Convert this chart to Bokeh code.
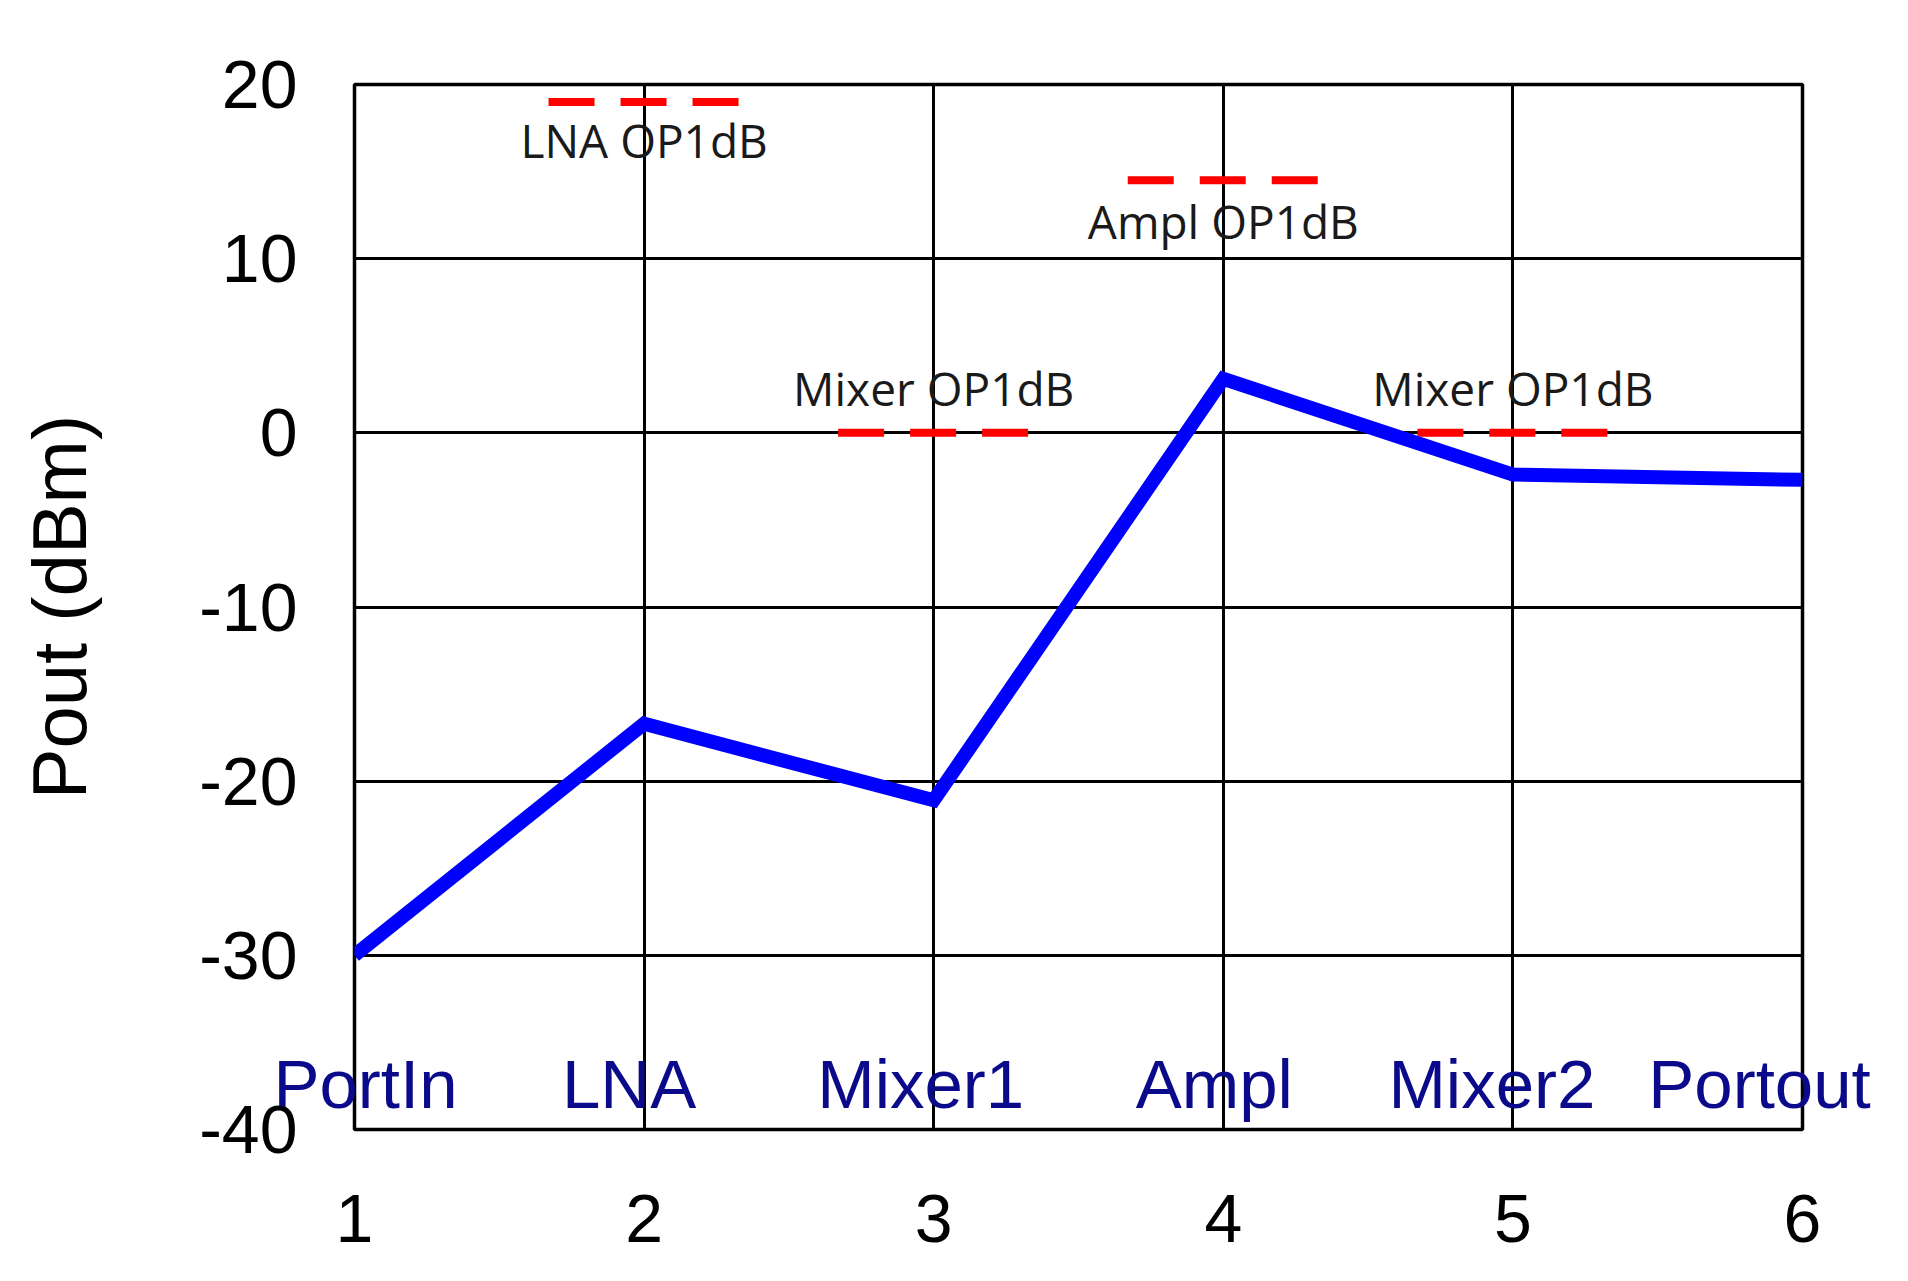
from bokeh.plotting import figure
from bokeh.models import (Range1d, FixedTicker, Label, PrintfTickFormatter, LinearAxis,
                          CustomJSTickFormatter)
from bokeh.embed import file_html
from bokeh.resources import INLINE

# ---- data ----
stage_index = [1, 2, 3, 4, 5, 6]
stage_names = ["PortIn", "LNA", "Mixer1", "Ampl", "Mixer2", "Portout"]
pout_dbm = [-30.0, -16.7, -21.1, 3.1, -2.4, -2.7]

op1db_labels = ["LNA OP1dB", "Mixer OP1dB", "Ampl OP1dB", "Mixer OP1dB"]
op1db_stage = [2, 3, 4, 5]
op1db_start = [1.67, 2.67, 3.67, 4.67]
op1db_end = [2.33, 3.33, 4.33, 5.33]
op1db_dbm = [19.0, 0.0, 14.5, 0.0]

y_ticks = [-40, -30, -20, -10, 0, 10, 20]
x_ticks = [1, 2, 3, 4, 5, 6]

FRAME_W, FRAME_H = 1448, 1045
p = figure(
    frame_width=FRAME_W, frame_height=FRAME_H,
    min_border_left=354, min_border_top=84, min_border_right=96, min_border_bottom=140,
    x_range=Range1d(1, 6), y_range=Range1d(-40, 20),
    output_backend="svg", toolbar_location=None,
)
p.background_fill_color = "white"
p.border_fill_color = "white"
p.outline_line_color = "black"
p.outline_line_width = 3.5

num_xaxis = p.xaxis[0]
for ax in (num_xaxis, p.yaxis[0]):
    ax.axis_line_color = None
    ax.major_tick_line_color = None
    ax.minor_tick_line_color = None
    ax.major_tick_out = 0
    ax.major_tick_in = 0
    ax.major_label_text_font = "Liberation Sans"
    ax.major_label_text_font_size = "68px"
    ax.major_label_text_color = "black"
    ax.formatter = PrintfTickFormatter(format="%d")

num_xaxis.ticker = FixedTicker(ticks=x_ticks)
p.yaxis[0].ticker = FixedTicker(ticks=y_ticks)
num_xaxis.major_label_standoff = 65
p.yaxis[0].major_label_standoff = 57

p.yaxis[0].axis_label = "Pout (dBm)"
p.yaxis[0].axis_label_text_font = "Liberation Sans"
p.yaxis[0].axis_label_text_font_size = "76px"
p.yaxis[0].axis_label_text_font_style = "normal"
p.yaxis[0].axis_label_text_color = "black"
p.yaxis[0].axis_label_standoff = 94

# stage-name axis drawn just inside the bottom of the frame
px_per_unit = FRAME_W / (x_ticks[-1] - x_ticks[0])
name_dx_px = [11, -15, -13, -9, -21, -43]
cat_axis = LinearAxis(
    ticker=FixedTicker(ticks=[s + d / px_per_unit for s, d in zip(stage_index, name_dx_px)]),
    formatter=CustomJSTickFormatter(args=dict(names=stage_names),
                                    code="return names[Math.round(tick) - 1];"),
)
cat_axis.axis_line_color = None
cat_axis.major_tick_line_color = None
cat_axis.minor_tick_line_color = None
cat_axis.major_tick_out = 0
cat_axis.major_tick_in = 0
cat_axis.major_label_standoff = -84
cat_axis.major_label_text_font = "Liberation Sans"
cat_axis.major_label_text_font_size = "69px"
cat_axis.major_label_text_color = "#0a0a8a"
p.below = [cat_axis, num_xaxis]

for g in (p.xgrid[0], p.ygrid[0]):
    g.grid_line_color = "black"
    g.grid_line_width = 3
    g.grid_line_alpha = 1.0
p.xgrid[0].ticker = FixedTicker(ticks=x_ticks)
p.ygrid[0].ticker = FixedTicker(ticks=y_ticks)

# OP1dB reference dashes
for x0, x1, yv in zip(op1db_start, op1db_end, op1db_dbm):
    p.line([x0, x1], [yv, yv], line_color="#ff0000", line_width=8, line_dash="46 26")

# main power line
p.line(stage_index, pout_dbm, line_color="#0000ff", line_width=14, line_join="miter")

# OP1dB labels (above/below the dash)
label_dy = [-2.2, 2.6, -2.35, 2.6]
for name, xs, yv, dy in zip(op1db_labels, op1db_stage, op1db_dbm, label_dy):
    p.add_layout(Label(x=xs, y=yv + dy, text=name, text_align="center", text_baseline="middle",
                       text_font="Open Sans", text_font_size="46px", text_color="#1a1a1a"))

open("out.html", "w").write(file_html(p, INLINE))
